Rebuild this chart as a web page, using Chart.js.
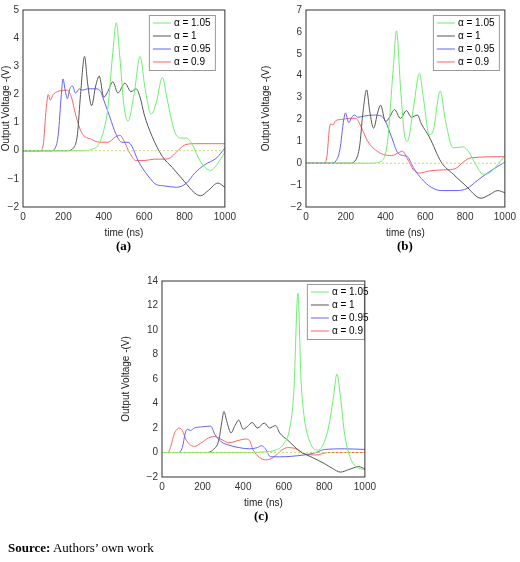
<!DOCTYPE html>
<html>
<head>
<meta charset="utf-8">
<script src="https://cdn.jsdelivr.net/npm/chart.js@4.4.0/dist/chart.umd.min.js"></script>
<style>
body { margin: 0; background: #fff; width: 520px; height: 562px; position: relative; font-family: "Liberation Sans", Arial, sans-serif; }
.box { position: absolute; }
.cap { position: absolute; font-family: "Liberation Serif", serif; font-weight: bold; font-size: 13px; }
#src { position: absolute; left: 8px; top: 540px; font-family: "Liberation Serif", serif; font-size: 13px; }
</style>
</head>
<body>
<div class="box" style="left:0;top:0;width:240px;height:243px"><canvas id="chartA"></canvas></div>
<div class="box" style="left:260px;top:0;width:260px;height:243px"><canvas id="chartB"></canvas></div>
<div class="box" style="left:120px;top:271px;width:260px;height:242px"><canvas id="chartC"></canvas></div>
<div class="cap" style="left:116px;top:238px">(a)</div>
<div class="cap" style="left:397px;top:238px">(b)</div>
<div class="cap" style="left:254px;top:508px">(c)</div>
<div id="src"><b>Source:</b> Authors’ own work</div>
<script>
// Etiquetas y colores de las series
const seriesLabels = ['α = 1.05', 'α = 1', 'α = 0.95', 'α = 0.9'];
const seriesColors = ['#6af06a', '#555555', '#6262ff', '#ff6262'];
const xTicks = [0, 200, 400, 600, 800, 1000];

// Panel (a): [tiempo ns, voltaje V]
const aGreen = [[0,0],[300,0],[340,0.05],[380,0.3],[420,1.5],[445,3.5],[462,4.55],[480,3.3],[500,1.6],[520,1.05],[550,2.0],[580,3.35],[605,2.2],[635,1.3],[660,1.7],[690,2.6],[715,1.8],[750,0.7],[780,0.45],[810,0.45],[840,0.2],[880,-0.4],[930,-0.7],[960,-0.5],[1000,-0.05]];
const aBlack = [[0,0],[220,0],[250,0.1],[270,0.6],[285,2.0],[305,3.35],[320,2.4],[340,1.6],[360,2.3],[378,2.65],[400,1.9],[420,2.1],[445,2.45],[470,2.05],[505,2.4],[535,2.1],[560,2.2],[580,1.9],[600,1.3],[640,0.5],[690,-0.2],[740,-0.6],[800,-1.1],[850,-1.5],[880,-1.6],[920,-1.4],[965,-1.15],[1000,-1.3]];
const aBlue = [[0,0],[140,0],[160,0.1],[175,0.6],[190,2.0],[198,2.55],[210,2.1],[220,1.85],[232,2.2],[245,2.3],[260,2.05],[280,2.2],[295,2.15],[320,2.2],[360,2.2],[385,2.1],[400,1.8],[430,1.2],[460,0.6],[490,0.3],[520,0.3],[540,0.15],[570,-0.35],[620,-0.9],[660,-1.2],[700,-1.25],[760,-1.3],[810,-1.15],[850,-0.8],[900,-0.5],[960,-0.25],[1000,0.1]];
const aRed = [[0,0],[85,0],[100,0.2],[115,1.5],[125,2.0],[135,1.8],[150,2.0],[170,2.1],[200,2.15],[220,2.15],[240,1.9],[260,1.3],[290,0.65],[340,0.4],[380,0.3],[420,0.3],[460,0.5],[480,0.55],[500,0.35],[530,-0.1],[560,-0.35],[600,-0.35],[650,-0.3],[700,-0.3],[730,-0.25],[760,-0.05],[800,0.2],[850,0.25],[950,0.25],[1000,0.25]];

// Panel (b)
const bGreen = [[0,0],[330,0],[380,0.1],[410,1.0],[440,4.5],[455,6.05],[475,3.5],[495,1.3],[510,1.0],[540,2.5],[570,4.1],[590,3.0],[620,1.3],[640,1.5],[675,3.3],[700,2.0],[740,0.7],[790,0.75],[820,0.5],[850,0],[890,-0.5],[920,-0.45],[960,-0.1],[1000,0.35]];
const bBlack = [[0,0],[220,0],[250,0.15],[270,0.8],[285,2.2],[305,3.35],[320,2.4],[340,1.6],[360,2.3],[375,2.65],[400,1.9],[420,2.1],[445,2.45],[475,2.05],[505,2.4],[530,2.1],[560,2.2],[580,1.8],[620,1.2],[680,0.05],[740,-0.5],[800,-1.0],[880,-1.6],[920,-1.45],[965,-1.25],[1000,-1.35]];
const bBlue = [[0,0],[130,0],[150,0.1],[170,0.6],[190,2.0],[198,2.3],[215,1.85],[230,2.1],[245,2.2],[260,2.1],[290,2.15],[340,2.2],[380,2.15],[400,1.9],[430,1.2],[460,0.5],[490,0.35],[510,0.3],[540,-0.2],[580,-0.7],[630,-1.1],[680,-1.25],[760,-1.25],[810,-1.15],[860,-0.8],[920,-0.4],[1000,0.05]];
const bRed = [[0,0],[90,0],[105,0.3],[118,1.6],[125,1.8],[135,1.75],[150,1.95],[180,2.0],[220,2.05],[250,2.05],[280,1.6],[310,1.0],[350,0.6],[390,0.4],[430,0.35],[460,0.45],[485,0.55],[510,0.2],[540,-0.3],[570,-0.45],[620,-0.35],[700,-0.3],[750,-0.25],[790,0.05],[830,0.25],[1000,0.3]];

// Panel (c)
const cGreen = [[0,0],[450,0],[500,0.05],[560,0.2],[600,0.7],[630,2.0],[650,5.0],[670,13.0],[685,6.0],[700,3.0],[720,1.3],[760,0.2],[790,0.5],[820,2.0],[845,4.5],[862,6.4],[880,4.5],[900,1.5],[930,-0.5],[960,-1.2],[1000,-1.4]];
const cBlack = [[0,0],[220,0],[250,0.2],[280,1.0],[295,2.5],[305,3.35],[320,2.5],[340,1.6],[360,2.2],[378,2.65],[400,1.9],[420,2.1],[445,2.45],[470,2.0],[505,2.4],[530,2.0],[560,2.2],[580,1.6],[620,1.0],[680,0.1],[740,-0.4],[800,-0.9],[840,-1.3],[880,-1.6],[920,-1.4],[970,-1.15],[1000,-1.35]];
const cBlue = [[0,0],[80,0],[100,0.4],[115,1.6],[125,1.9],[140,1.8],[160,2.0],[200,2.1],[240,2.15],[260,1.5],[290,0.9],[330,0.6],[380,0.4],[430,0.3],[470,0.4],[490,0.55],[510,0.3],[535,-0.35],[580,-0.35],[700,-0.2],[760,0.0],[800,0.25],[900,0.3],[1000,0.25]];
const cRed = [[0,0],[30,0],[45,0.6],[60,1.5],[85,2.0],[100,1.8],[120,1.0],[160,0.5],[190,0.75],[230,1.2],[260,1.3],[300,1.0],[330,0.8],[380,1.0],[410,1.1],[430,1.0],[450,0.2],[480,-0.4],[510,-0.6],[550,-0.4],[590,0.2],[620,0.4],[660,0.3],[700,-0.1],[760,-0.2],[820,0.0],[900,0.0],[1000,0.0]];

const zeroLine = [[0,0],[1000,0]];

// Leyenda estilo MATLAB dentro del área del gráfico
const boxLegend = {
    id: 'boxLegend',
    afterDraw(chart, args, opts) {
        const ctx = chart.ctx;
        const area = chart.chartArea;
        const w = opts.width, rowH = 13;
        const x = area.right - opts.right - w, y = area.top + opts.top;
        ctx.save();
        ctx.fillStyle = '#fff';
        ctx.strokeStyle = '#999';
        ctx.lineWidth = 1;
        ctx.fillRect(x, y, w, rowH * 4 + 3);
        ctx.strokeRect(x + 0.5, y + 0.5, w, rowH * 4 + 3);
        ctx.font = '10px "Liberation Sans", Arial';
        ctx.textBaseline = 'middle';
        seriesLabels.forEach((lab, i) => {
            const cy = y + 8 + i * rowH;
            ctx.strokeStyle = seriesColors[i];
            ctx.beginPath();
            ctx.moveTo(x + 4, cy);
            ctx.lineTo(x + 22, cy);
            ctx.stroke();
            ctx.fillStyle = '#000';
            ctx.fillText(lab, x + 25, cy);
        });
        // marco del eje
        ctx.strokeStyle = '#333';
        ctx.strokeRect(area.left, area.top, area.right - area.left, area.bottom - area.top);
        ctx.restore();
    }
};

function makeChart(id, series, yMin, yMax, yStep, yWidth, padRight, legendOpts) {
    const toPts = arr => arr.map(p => ({ x: p[0], y: p[1] }));
    const datasets = [{
        data: toPts(zeroLine), borderColor: '#c8dc70', borderWidth: 1, borderDash: [2, 2], pointRadius: 0
    }];
    series.forEach((s, i) => datasets.push({
        data: toPts(s), borderColor: seriesColors[i], borderWidth: 1, pointRadius: 0,
        cubicInterpolationMode: 'monotone'
    }));
    const tickFont = { family: '"Liberation Sans", Arial', size: 10 };
    return new Chart(document.getElementById(id), {
        type: 'line',
        data: { datasets: datasets },
        options: {
            responsive: true,
            maintainAspectRatio: false,
            animation: false,
            layout: { padding: { top: 4, right: padRight } },
            plugins: { legend: { display: false }, tooltip: { enabled: false }, boxLegend: legendOpts },
            scales: {
                x: {
                    type: 'linear', min: 0, max: 1000,
                    afterBuildTicks: s => { s.ticks = xTicks.map(v => ({ value: v })); },
                    grid: { display: false, drawTicks: false, tickLength: 0 }, border: { display: false },
                    ticks: { color: '#333', font: tickFont, maxRotation: 0, padding: 4, callback: v => String(v) },
                    title: { display: true, text: 'time (ns)', color: '#222', font: tickFont, padding: { top: 4 } },
                    afterFit: s => { s.height = 36; }
                },
                y: {
                    min: yMin, max: yMax,
                    grid: { display: false, drawTicks: false, tickLength: 0 }, border: { display: false },
                    ticks: { stepSize: yStep, color: '#333', font: tickFont, padding: 4,
                        callback: v => v < 0 ? '\u2212' + (-v) : String(v) },
                    title: { display: true, text: 'Output Voltage -(V)', color: '#222', font: tickFont, padding: 0 },
                    afterFit: s => { s.width = yWidth; }
                }
            }
        },
        plugins: [boxLegend]
    });
}

makeChart('chartA', [aGreen, aBlack, aBlue, aRed], -2, 5, 1, 23, 12, { width: 66, right: 10, top: 5 });
makeChart('chartB', [bGreen, bBlack, bBlue, bRed], -2, 7, 1, 46, 10, { width: 66, right: 6, top: 5 });
makeChart('chartC', [cGreen, cBlack, cBlue, cRed], -2, 14, 2, 42, 14, { width: 57, right: 1, top: 3 });
</script>
</body>
</html>
